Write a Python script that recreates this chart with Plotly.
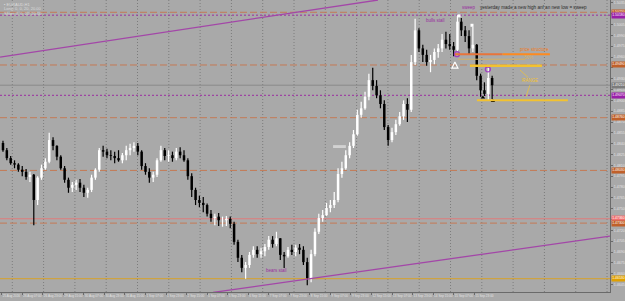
import plotly.graph_objects as go

# ---------------- data (EURAUD, 3-hour candles) ----------------
first_open = 1.4841
high = [1.4844, 1.4834, 1.4823, 1.4817, 1.4813, 1.4809, 1.4805, 1.4801, 1.4798, 1.4795,
        1.4811, 1.4820, 1.4855, 1.4849, 1.4838, 1.4824, 1.4809, 1.4793, 1.4787, 1.4790,
        1.4791, 1.4783, 1.4779, 1.4797, 1.4806, 1.4834, 1.4837, 1.4833, 1.4831, 1.4829,
        1.4831, 1.4827, 1.4837, 1.4840, 1.4842, 1.4841, 1.4831, 1.4813, 1.4806, 1.4801,
        1.4820, 1.4837, 1.4834, 1.4831, 1.4829, 1.4834, 1.4835, 1.4831, 1.4820, 1.4799,
        1.4779, 1.4768, 1.4766, 1.4757, 1.4748, 1.4743, 1.4744, 1.4739, 1.4740, 1.4739,
        1.4732, 1.4707, 1.4686, 1.4676, 1.4690, 1.4698, 1.4698, 1.4696, 1.4701, 1.4712,
        1.4712, 1.4718, 1.4709, 1.4690, 1.4697, 1.4700, 1.4700, 1.4701, 1.4698, 1.4682,
        1.4693, 1.4723, 1.4743, 1.4748, 1.4758, 1.4762, 1.4773, 1.4806, 1.4815, 1.4831,
        1.4842, 1.4859, 1.4887, 1.4898, 1.4912, 1.4937, 1.4945, 1.4928, 1.4914, 1.4900,
        1.4866, 1.4862, 1.4873, 1.4884, 1.4900, 1.4903, 1.4963, 1.5013, 1.5000, 1.4977,
        1.4970, 1.4963, 1.4972, 1.4978, 1.4992, 1.4995, 1.4992, 1.4981, 1.5018, 1.5014,
        1.5003, 1.4997, 1.5002, 1.4978, 1.4937, 1.4925, 1.4945, 1.4934]
low = [1.4829, 1.4817, 1.4811, 1.4806, 1.4801, 1.4795, 1.4790, 1.4787, 1.4727, 1.4755,
       1.4790, 1.4804, 1.4813, 1.4831, 1.4817, 1.4804, 1.4786, 1.4772, 1.4773, 1.4776,
       1.4773, 1.4766, 1.4765, 1.4773, 1.4790, 1.4801, 1.4822, 1.4820, 1.4817, 1.4813,
       1.4815, 1.4813, 1.4817, 1.4824, 1.4829, 1.4824, 1.4804, 1.4797, 1.4786, 1.4787,
       1.4794, 1.4815, 1.4817, 1.4815, 1.4815, 1.4817, 1.4820, 1.4815, 1.4790, 1.4766,
       1.4755, 1.4752, 1.4745, 1.4739, 1.4732, 1.4727, 1.4726, 1.4725, 1.4726, 1.4723,
       1.4700, 1.4676, 1.4662, 1.4653, 1.4668, 1.4682, 1.4682, 1.4682, 1.4684, 1.4693,
       1.4696, 1.4698, 1.4679, 1.4668, 1.4682, 1.4686, 1.4684, 1.4687, 1.4672, 1.4644,
       1.4648, 1.4684, 1.4715, 1.4732, 1.4740, 1.4745, 1.4751, 1.4759, 1.4793, 1.4804,
       1.4820, 1.4834, 1.4851, 1.4876, 1.4887, 1.4900, 1.4914, 1.4903, 1.4889, 1.4859,
       1.4837, 1.4842, 1.4852, 1.4865, 1.4873, 1.4870, 1.4884, 1.4949, 1.4967, 1.4953,
       1.4948, 1.4939, 1.4950, 1.4959, 1.4967, 1.4972, 1.4970, 1.4961, 1.4967, 1.4989,
       1.4981, 1.4963, 1.4967, 1.4928, 1.4905, 1.4906, 1.4900, 1.4902]
close = [1.4831, 1.4820, 1.4813, 1.4811, 1.4804, 1.4801, 1.4794, 1.4797, 1.4762, 1.4793,
         1.4806, 1.4815, 1.4845, 1.4837, 1.4822, 1.4806, 1.4790, 1.4779, 1.4783, 1.4786,
         1.4779, 1.4772, 1.4776, 1.4793, 1.4804, 1.4831, 1.4829, 1.4824, 1.4823, 1.4820,
         1.4817, 1.4824, 1.4831, 1.4834, 1.4837, 1.4829, 1.4809, 1.4801, 1.4793, 1.4797,
         1.4817, 1.4831, 1.4823, 1.4824, 1.4820, 1.4829, 1.4824, 1.4817, 1.4795, 1.4776,
         1.4762, 1.4758, 1.4755, 1.4743, 1.4737, 1.4739, 1.4734, 1.4734, 1.4736, 1.4729,
         1.4704, 1.4682, 1.4668, 1.4672, 1.4686, 1.4693, 1.4687, 1.4691, 1.4697, 1.4707,
         1.4701, 1.4709, 1.4686, 1.4684, 1.4693, 1.4690, 1.4696, 1.4693, 1.4676, 1.4654,
         1.4687, 1.4718, 1.4737, 1.4741, 1.4751, 1.4755, 1.4762, 1.4798, 1.4806, 1.4824,
         1.4837, 1.4853, 1.4880, 1.4889, 1.4905, 1.4928, 1.4920, 1.4907, 1.4895, 1.4863,
         1.4845, 1.4856, 1.4867, 1.4878, 1.4895, 1.4887, 1.4953, 1.4997, 1.4972, 1.4963,
         1.4953, 1.4956, 1.4967, 1.4972, 1.4984, 1.4978, 1.4975, 1.4970, 1.5009, 1.4997,
         1.4989, 1.4972, 1.4977, 1.4934, 1.4914, 1.4909, 1.4931, 1.4921]

date_labels = ["25 Aug 2016", "26 Aug 07:00", "26 Aug 23:00", "29 Aug 15:00", "30 Aug 07:00",
               "30 Aug 23:00", "31 Aug 15:00", "1 Sep 07:00", "1 Sep 23:00", "2 Sep 15:00",
               "5 Sep 07:00", "5 Sep 23:00", "6 Sep 15:00", "7 Sep 07:00", "7 Sep 23:00",
               "8 Sep 15:00", "9 Sep 07:00", "9 Sep 23:00", "12 Sep 15:00", "13 Sep 07:00",
               "13 Sep 23:00", "14 Sep 15:00", "15 Sep 07:00", "15 Sep 23:00"]
hours_per_label = 16
hours_per_candle = 3

price_ticks = [1.5035, 1.5020, 1.5005, 1.4990, 1.4975, 1.4960, 1.4945, 1.4930, 1.4915,
               1.4900, 1.4885, 1.4870, 1.4855, 1.4840, 1.4825, 1.4810, 1.4795, 1.4780,
               1.4765, 1.4750, 1.4735, 1.4720, 1.4705, 1.4690, 1.4675, 1.4660, 1.4645]
# tick labels hidden behind the level price boxes on the axis
covered_ticks = [1.5020, 1.4945, 1.4735]

# horizontal levels
level_prices = [1.5022, 1.5018, 1.4949, 1.4921, 1.4907, 1.4876, 1.4803, 1.4736, 1.4730, 1.4653]
level_kinds = ["sr", "pd", "sr", "bid", "pd", "sr", "sr", "salmon", "sr", "gold"]

# trend lines (bar index, price)
trend_up = [(-1.3, 1.4960), (293.1, 1.5039)]
trend_low = [(164.6, 1.4634), (473.8, 1.4712)]

# ---------------- styles ----------------
BG = "#a9a9a9"
kind_style = {
    "sr": dict(color="#c47a55", dash="7px,3px", width=1, box="#c0602a"),
    "pd": dict(color="#9a2ca0", dash="2px,2px", width=1, box="#9a1fa8"),
    "bid": dict(color="#8a8a8a", dash="solid", width=1, box="#7c7c7c"),
    "salmon": dict(color="#e07b7b", dash="solid", width=1, box="#f07070"),
    "gold": dict(color="#d9a227", dash="solid", width=1, box="#e0a000"),
}
PURPLE = "#a347a8"
FONT = "Liberation Sans, Arial, sans-serif"

fig = go.Figure()

# ---------------- candles ----------------
opens = [first_open] + close[:-1]
xs = [hours_per_candle * j + 1 for j in range(len(close))]
uw_x, uw_y, dw_x, dw_y = [], [], [], []
ub_x, ub_y, db_x, db_y = [], [], [], []
for xb, o, h, l, c in zip(xs, opens, high, low, close):
    if c >= o:
        uw_x += [xb, xb, None]; uw_y += [l, h, None]
        ub_x += [xb, xb, None]; ub_y += [o, c, None]
    else:
        dw_x += [xb, xb, None]; dw_y += [l, h, None]
        db_x += [xb, xb, None]; db_y += [o, c, None]

for xx, yy, col, w in [(dw_x, dw_y, "#000000", 1.2), (uw_x, uw_y, "#ffffff", 1.2),
                       (db_x, db_y, "#000000", 2.5), (ub_x, ub_y, "#ffffff", 2.5)]:
    fig.add_trace(go.Scatter(x=xx, y=yy, mode="lines", line=dict(color=col, width=w),
                             hoverinfo="skip", showlegend=False))

# ---------------- axes ----------------
x_min, x_max = -1.32, 473.8
y_min, y_max = 1.46346, 1.5039

shapes = []
# vertical dotted grid
g = 8.26
while g < x_max:
    shapes.append(dict(type="line", xref="x", yref="paper", x0=g, x1=g, y0=0, y1=1,
                       line=dict(color="#7c7c7c", width=1, dash="1px,2px"), layer="below"))
    g += 24.38

annotations = []
for p, k in zip(level_prices, level_kinds):
    st = kind_style[k]
    shapes.append(dict(type="line", xref="paper", yref="y", x0=0, x1=1, y0=p, y1=p,
                       line=dict(color=st["color"], width=st["width"], dash=st["dash"]),
                       layer="below"))
    annotations.append(dict(x=1, xref="paper", y=p, yref="y", xanchor="left", yanchor="middle",
                            text=f"{p:.5f}", showarrow=False, xshift=1,
                            font=dict(size=3.4, color="#ffffff", family=FONT),
                            bgcolor=st["box"], borderpad=0.3))

for (a, b) in [trend_up, trend_low]:
    shapes.append(dict(type="line", xref="x", yref="y", x0=a[0], y0=a[1], x1=b[0], y1=b[1],
                       line=dict(color=PURPLE, width=1.3)))

# light grey text box object
shapes.append(dict(type="rect", xref="x", yref="y", x0=258.1, x1=268.1, y0=1.4834, y1=1.4838,
                   fillcolor="#d2d2d2", line=dict(width=0)))

# structure lines
struct_lines = [
    (353.0, 390.0, 1.4964, "#e8743a", 2),
    (390.0, 427.0, 1.4964, "#ff8a1e", 2),
    (355.4, 407.6, 1.4957, "#d6b060", 1),
    (364.7, 420.8, 1.4948, "#f2c230", 2.5),
    (370.2, 441.0, 1.4900, "#f2c230", 2),
]
for x0, x1, p, col, w in struct_lines:
    shapes.append(dict(type="line", xref="x", yref="y", x0=x0, x1=x1, y0=p, y1=p,
                       line=dict(color=col, width=w)))
# range connectors
shapes.append(dict(type="line", xref="x", yref="y", x0=403.7, y0=1.4942, x1=409.9, y1=1.4932,
                   line=dict(color="#e8c040", width=0.8)))
shapes.append(dict(type="line", xref="x", yref="y", x0=411.4, y0=1.4921, x1=408.3, y1=1.4905,
                   line=dict(color="#e8c040", width=0.8)))

# markers
fig.add_trace(go.Scatter(x=[356.2, 366.3], y=[1.5017, 1.5004], mode="markers",
                         marker=dict(symbol="square", size=3, color="#ffffff"),
                         hoverinfo="skip", showlegend=False))
fig.add_trace(go.Scatter(x=[353.0], y=[1.4953], mode="markers",
                         marker=dict(symbol="arrow-up-open", size=6, color="#ffffff",
                                     line=dict(color="#ffffff", width=1.2)),
                         hoverinfo="skip", showlegend=False))
fig.add_trace(go.Scatter(x=[354.6, 378.7], y=[1.4964, 1.4943], mode="markers",
                         marker=dict(symbol="circle-open", size=5, color="#a040c0",
                                     line=dict(color="#a040c0", width=1.3)),
                         hoverinfo="skip", showlegend=False))
fig.add_trace(go.Scatter(x=[374.8, 382.6], y=[1.4904, 1.4899], mode="markers",
                         marker=dict(symbol="triangle-up", size=4, color="#000000"),
                         hoverinfo="skip", showlegend=False))

# texts
def txt(x, y, s, col, size=4.5, anchor="center"):
    annotations.append(dict(x=x, y=y, xref="x", yref="y", text=s, showarrow=False,
                            xanchor=anchor, yanchor="middle",
                            font=dict(size=size, color=col, family=FONT)))

txt(338.2, 1.5010, "bulls stall", "#9a2ca0")
txt(214.4, 1.4664, "bears stall", "#9a2ca0")
txt(363.9, 1.5029, "sweep", "#9a2ca0")
txt(370.9, 1.5029, "yesterday made a new high anf an new low = sweep", "#2a2a2a", 4.6, "left")
txt(415.3, 1.4970, "price structure", "#f07a20")
txt(410.7, 1.4959, "50%", "#d8b060")
txt(411.4, 1.4927, "RANGE", "#f2c230")

for i, s in enumerate(["▪ EURAUD,H1", "Long: 0, 0, 20, 20.00", "Short: 0, 0, 20, 20.00"]):
    annotations.append(dict(x=0.004, y=1 - i * 0.015, xref="paper", yref="paper", text=s,
                            showarrow=False, xanchor="left", yanchor="top",
                            font=dict(size=4, color="#dcdcdc", family=FONT)))

fig.update_layout(
    width=625, height=301,
    margin=dict(l=0, r=15, t=0, b=9, autoexpand=False),
    paper_bgcolor=BG, plot_bgcolor=BG,
    showlegend=False,
    shapes=shapes, annotations=annotations,
    xaxis=dict(range=[x_min, x_max], tickvals=[hours_per_label * k for k in range(len(date_labels))],
               ticktext=date_labels, ticklabelposition="outside right", tickangle=0,
               automargin=False,
               tickfont=dict(size=3.1, color="#e4e4e4", family=FONT),
               ticks="outside", ticklen=2, tickcolor="#6a6a6a",
               showgrid=False, zeroline=False, showline=True, linecolor="#6a6a6a", linewidth=1),
    yaxis=dict(range=[y_min, y_max], side="right", tickvals=price_ticks,
               ticktext=["" if p in covered_ticks else f"{p:.4f}" for p in price_ticks],
               automargin=False,
               tickfont=dict(size=3.6, color="#e4e4e4", family=FONT),
               ticks="outside", ticklen=2, tickcolor="#6a6a6a",
               showgrid=False, zeroline=False, showline=True, linecolor="#6a6a6a", linewidth=1),
)

fig.write_html("out.html")
